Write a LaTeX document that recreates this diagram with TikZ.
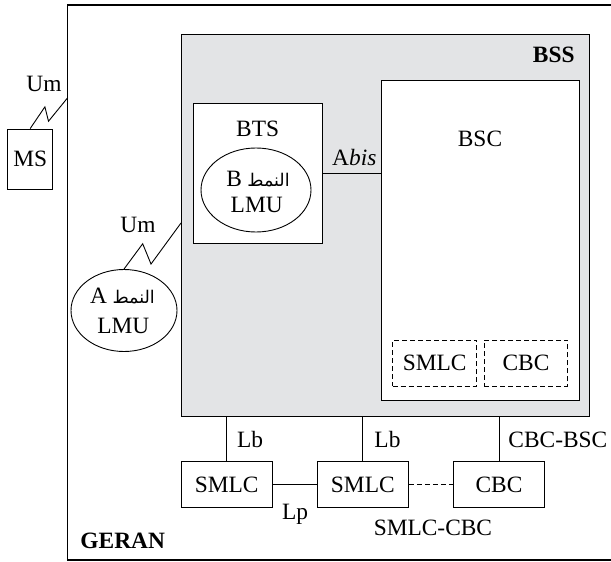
\documentclass[tikz,border=0pt]{standalone}
\usepackage{fontspec}
\setmainfont{Liberation Serif}
\newfontfamily\arabicfont[Script=Arabic]{DejaVu Sans}
\TeXXeTstate=1
\usetikzlibrary{shapes.geometric}
\definecolor{bssgrey}{RGB}{227,228,230}
\newcommand{\mainsize}{\fontsize{23.4}{28}\selectfont}
\begin{document}
\begin{tikzpicture}[x=1pt,y=-1pt, line width=0.9pt,
  font=\mainsize,
  box/.style={draw, rectangle, inner sep=0pt, text height=15.5pt, text depth=0pt,
    minimum width=91pt, minimum height=45.6pt},
  dbox/.style={box, dash pattern=on 5pt off 3pt, minimum height=46pt},
  lmu/.style={draw, ellipse, inner sep=0pt},
  lbl/.style={inner sep=0pt, anchor=base west},
  lblc/.style={inner sep=0pt, anchor=base},
  ar/.style={inner sep=0pt, anchor=base, font=\fontsize{17.5}{20}\selectfont\arabicfont}]
\useasboundingbox (0,0) rectangle (611,562);
% GERAN frame
\draw[line width=1.1pt] (611,5) -- (67.7,5) -- (67.7,560) -- (611,560);
% BSS
\node[draw, fill=bssgrey, minimum width=408pt, minimum height=382pt, inner sep=0pt] (bss) at (385,225) {};
\node[draw, fill=white, minimum width=129pt, minimum height=140pt, inner sep=0pt] (bts) at (257.5,173) {};
\node[draw, fill=white, minimum width=197.3pt, minimum height=320.7pt, inner sep=0pt] (bsc) at (480.35,240.35) {};
\node[dbox, minimum width=84pt] (smlcin) at (434.7,363) {SMLC};
\node[dbox, minimum width=83.4pt] (cbcin) at (526,363) {CBC};
\node[lmu, minimum width=110pt, minimum height=84pt] (lmub) at (256,190) {};
% outside
\node[lmu, minimum width=106pt, minimum height=82pt] (lmua) at (124,310.5) {};
\node[box, minimum width=45pt, minimum height=60pt] (ms) at (30.2,159) {MS};
\node[box] (smlc1) at (226.7,484.5) {SMLC};
\node[box] (smlc2) at (362.8,484.5) {SMLC};
\node[box] (cbc) at (499,484.5) {CBC};
% coordinates
\coordinate (um1end) at (67.7,97.7);
\coordinate (um2end) at (181,223);
% connectors
\draw (bts.east) -- (bts.east -| bsc.west);
\draw (smlc1.north) -- (smlc1.north |- bss.south);
\draw (smlc2.north) -- (smlc2.north |- bss.south);
\draw (cbc.north) -- (cbc.north |- bss.south);
\draw (smlc1.east) -- (smlc2.west);
\draw[dash pattern=on 5pt off 3pt] (smlc2.east) -- (cbc.west);
\draw (ms.north) -- ++(14.7,-21.7) -- ++(3.6,14.4) -- (um1end);
\draw (lmua.north) -- ++(18.7,-25.3) -- ++(8.3,20.3) -- (um2end);
% labels
\node[lbl] (tum1) at (26,91.7) {Um};
\node[lbl] (tum2) at (120,232.7) {Um};
\node[lblc] (tbts) at (257.7,136.7) {BTS};
\node[lblc] (tbsc) at (480,146) {BSC};
\node[inner sep=0pt, anchor=base east, font=\mainsize\bfseries] (tbss) at (575,62.3) {BSS};
\node[lbl] (tabis) at (331.7,165) {A\textit{bis}};
\node[ar] (tarb) at (258,186.7) {\beginR النمط {\mainsize\rmfamily B}\endR};
\node[lblc] (tlmub) at (256.7,212.7) {LMU};
\node[ar] (tara) at (122.5,303.3) {\beginR النمط {\mainsize\rmfamily A}\endR};
\node[lblc] (tlmua) at (123.3,333.3) {LMU};
\node[lbl] (tlb1) at (236.7,447.7) {Lb};
\node[lbl] (tlb2) at (374,447.7) {Lb};
\node[lbl] (tcbcbsc) at (508,447.7) {CBC-BSC};
\node[lbl] (tlp) at (281.7,519) {Lp};
\node[lbl] (tsmlccbc) at (373.3,535) {SMLC-CBC};
\node[inner sep=0pt, anchor=base west, font=\mainsize\bfseries] (tgeran) at (80,548) {GERAN};
\end{tikzpicture}
\end{document}
